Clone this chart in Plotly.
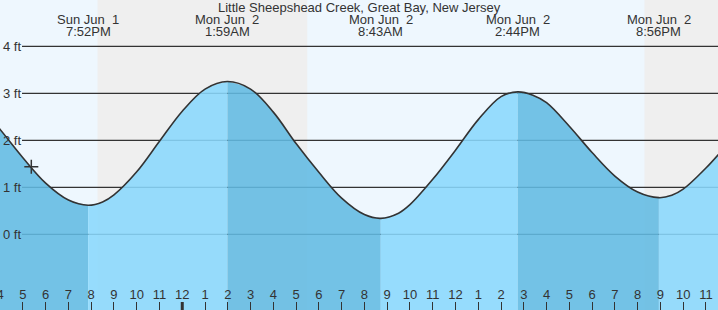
import plotly.graph_objects as go

# ---------------- data ----------------
TITLE = "Little Sheepshead Creek, Great Bay, New Jersey"

# hours counted from Jun 1 00:00
TIMES = [15.5, 16, 17, 18, 19, 19.867, 20.5, 21, 22, 23, 24, 25, 25.983,
         27, 28, 29, 30, 31, 32, 32.717, 33.5, 34, 35, 36, 37, 38, 38.733,
         39.4, 40, 41, 42, 43, 44, 44.933, 45.5, 46, 47, 48]
HEIGHTS = [2.51, 2.23, 1.63, 1.09, 0.73, 0.62, 0.69, 0.84, 1.33, 1.98, 2.62, 3.09, 3.25,
           3.09, 2.60, 1.93, 1.32, 0.77, 0.42, 0.34, 0.45, 0.63, 1.17, 1.79, 2.44, 2.93, 3.03,
           2.96, 2.80, 2.30, 1.74, 1.24, 0.90, 0.78, 0.83, 0.96, 1.41, 1.95]

EXT_T = [19.867, 25.983, 32.717, 38.733, 44.933]
EXT_DATE = ["Sun Jun\u00a0 1", "Mon Jun\u00a0 2", "Mon Jun\u00a0 2", "Mon Jun\u00a0 2", "Mon Jun\u00a0 2"]
EXT_TIME = ["7:52PM", "1:59AM", "8:43AM", "2:44PM", "8:56PM"]
FALLING = [True, False, True, False, True, False]  # segment before/between/after extremes

NIGHTS = [(20.28, 29.49), (44.30, 48.5)]

NOW_T = [17.37]
NOW_V = [1.44]

GRID_FT = [0, 1, 2, 3, 4]
GRID_LABELS = ["0 ft", "1 ft", "2 ft", "3 ft", "4 ft"]

HOUR_VALS = list(range(16, 48))
HOUR_TEXT = ["4", "5", "6", "7", "8", "9", "10", "11", "12", "1", "2", "3", "4", "5", "6", "7",
             "8", "9", "10", "11", "12", "1", "2", "3", "4", "5", "6", "7", "8", "9", "10", "11"]
MIDNIGHT = [24]

X_RANGE = [15.995, 47.53]
Y_RANGE = [-1.61, 4.985]

# ---------------- style ----------------
W, H = 718, 310
DAY = "#eef7fe"
NIGHT = "#efefef"
LIGHT = "rgba(138,216,253,0.88)"
DARK = "rgba(98,187,227,0.88)"
INK = "#333333"
FONT = "Liberation Sans"
FS = 13

fig = go.Figure()

# split series into segments at extremes
bounds = [TIMES[0]] + EXT_T + [TIMES[-1]]
for i in range(len(bounds) - 1):
    a, b = bounds[i], bounds[i + 1]
    xs = [t for t in TIMES if a <= t <= b]
    ys = [v for t, v in zip(TIMES, HEIGHTS) if a <= t <= b]
    fig.add_trace(go.Scatter(x=xs, y=[Y_RANGE[0] - 1] * len(xs), mode="lines",
                             line=dict(width=0), hoverinfo="skip", showlegend=False))
    fig.add_trace(go.Scatter(x=xs, y=ys, mode="lines", fill="tonexty",
                             fillcolor=DARK if FALLING[i] else LIGHT,
                             line=dict(width=0, shape="spline"),
                             hoverinfo="skip", showlegend=False))

fig.add_trace(go.Scatter(x=TIMES, y=HEIGHTS, mode="lines",
                         line=dict(color=INK, width=1.6, shape="spline"),
                         showlegend=False))

fig.add_trace(go.Scatter(x=NOW_T, y=NOW_V, mode="markers",
                         marker=dict(symbol="cross-thin", size=10,
                                     line=dict(color=INK, width=1.5)),
                         showlegend=False))

shapes = []
for a, b in NIGHTS:
    shapes.append(dict(type="rect", xref="x", yref="paper", x0=a, x1=b, y0=0, y1=1,
                       fillcolor=NIGHT, line=dict(width=0), layer="below"))
for g in GRID_FT:
    shapes.append(dict(type="line", xref="paper", yref="y", x0=22 / W, x1=1, y0=g, y1=g,
                       line=dict(color=INK, width=1.2), layer="below"))
for m in MIDNIGHT:
    shapes.append(dict(type="line", xref="x", yref="paper", x0=m, x1=m, y0=0, y1=8 / H,
                       line=dict(color=INK, width=3), layer="above"))

annotations = []
annotations.append(dict(text=TITLE, xref="paper", yref="paper", x=0.5, y=1 - 7.5 / H,
                        xanchor="center", yanchor="middle", showarrow=False,
                        font=dict(family=FONT, size=FS, color=INK)))
for t, d, tm in zip(EXT_T, EXT_DATE, EXT_TIME):
    annotations.append(dict(text=d, xref="x", yref="paper", x=t, y=1 - 19.5 / H,
                            xanchor="center", yanchor="middle", showarrow=False,
                            font=dict(family=FONT, size=FS, color=INK)))
    annotations.append(dict(text=tm, xref="x", yref="paper", x=t, y=1 - 31.5 / H,
                            xanchor="center", yanchor="middle", showarrow=False,
                            font=dict(family=FONT, size=FS, color=INK)))
for g, lab in zip(GRID_FT, GRID_LABELS):
    annotations.append(dict(text=lab, xref="paper", yref="y", x=1 / W, y=g,
                            xanchor="left", yanchor="middle", showarrow=False,
                            font=dict(family=FONT, size=FS, color=INK)))

fig.update_layout(
    width=W, height=H, margin=dict(l=0, r=0, t=0, b=0, autoexpand=False),
    paper_bgcolor=DAY, plot_bgcolor=DAY,
    shapes=shapes, annotations=annotations,
    xaxis=dict(range=X_RANGE, showgrid=False, zeroline=False, showline=False,
               tickvals=HOUR_VALS, ticktext=HOUR_TEXT, ticks="inside", ticklen=8,
               tickcolor=INK, tickwidth=1, ticklabelposition="inside",
               ticklabeloverflow="allow", automargin=False,
               tickfont=dict(family=FONT, size=FS, color=INK), fixedrange=True),
    yaxis=dict(range=Y_RANGE, visible=False, fixedrange=True, automargin=False),
    showlegend=False,
)

fig.write_html("out.html")
